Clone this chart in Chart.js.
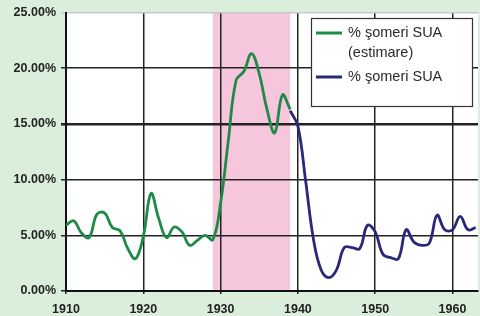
<!DOCTYPE html>
<html>
<head>
<meta charset="utf-8">
<script src="https://cdn.jsdelivr.net/npm/chart.js@4.4.1/dist/chart.umd.min.js"></script>
<style>
  html, body { margin: 0; padding: 0; background: #dbeedb; }
  #wrap { width: 480px; height: 316px; }
</style>
</head>
<body>
<div id="wrap"><canvas id="chart" width="480" height="316"></canvas></div>
<script>
// estimated series, 1910-1939
const estYears = [1910, 1911, 1912, 1913, 1914, 1915, 1916, 1917, 1918, 1919,
                  1920, 1921, 1922, 1923, 1924, 1925, 1926, 1927, 1928, 1929,
                  1930, 1931, 1932, 1933, 1934, 1935, 1936, 1937, 1938, 1939];
const estValues = [5.9, 6.3, 5.2, 4.8, 6.9, 7.0, 5.7, 5.4, 3.8, 2.9,
                   4.9, 8.75, 6.5, 4.8, 5.75, 5.3, 4.1, 4.55, 5.0, 4.6,
                   7.9, 13.5, 18.9, 19.7, 21.3, 19.5, 16.3, 14.2, 17.6, 16.3];

// official series, 1939-1963
const usYears = [1939, 1940, 1941, 1942, 1943, 1944, 1945, 1946, 1947, 1948,
                 1949, 1950, 1951, 1952, 1953, 1954, 1955, 1956, 1957, 1958,
                 1959, 1960, 1961, 1962, 1963];
const usValues = [16.2, 14.8, 9.9, 4.7, 1.9, 1.2, 1.9, 3.9, 3.9, 3.8,
                  5.9, 5.3, 3.3, 3.0, 2.9, 5.5, 4.4, 4.1, 4.3, 6.8,
                  5.5, 5.5, 6.7, 5.5, 5.7];

const seriesLabels = [['% şomeri SUA', '(estimare)'], ['% şomeri SUA']];
const depression = [1929, 1939];
const xTicks = [1910, 1920, 1930, 1940, 1950, 1960];
const yTicks = [0, 5, 10, 15, 20, 25];

const toPoints = (xs, ys) => xs.map((x, i) => ({ x: x, y: ys[i] }));

const backdrop = {
    id: 'backdrop',
    beforeDraw(chart) {
        const { ctx, chartArea: a, scales } = chart;
        ctx.save();
        ctx.fillStyle = '#dbeedb';
        ctx.fillRect(0, 0, chart.width, chart.height);
        ctx.fillStyle = '#ffffff';
        ctx.fillRect(a.left, a.top, a.right - a.left, a.bottom - a.top);
        const x0 = scales.x.getPixelForValue(depression[0]);
        const x1 = scales.x.getPixelForValue(depression[1]);
        ctx.fillStyle = '#f5c6dc';
        ctx.fillRect(x0, a.top, x1 - x0, a.bottom - a.top);
        ctx.restore();
    }
};

const boxLegend = {
    id: 'boxLegend',
    afterDraw(chart) {
        const ctx = chart.ctx;
        const bx = 311, by = 18, bw = 161, bh = 88;
        ctx.save();
        ctx.fillStyle = '#ffffff';
        ctx.fillRect(bx, by, bw, bh);
        ctx.strokeStyle = '#333333';
        ctx.lineWidth = 1.2;
        ctx.strokeRect(bx + 0.5, by + 0.5, bw, bh);
        ctx.font = '14.5px "Liberation Sans", Arial, sans-serif';
        ctx.textBaseline = 'middle';
        let y = by + 15;
        chart.data.datasets.forEach((ds, i) => {
            ctx.strokeStyle = ds.borderColor;
            ctx.lineWidth = 3;
            ctx.beginPath();
            ctx.moveTo(bx + 5, y);
            ctx.lineTo(bx + 31, y);
            ctx.stroke();
            ctx.fillStyle = '#2a2a2a';
            seriesLabels[i].forEach((t) => {
                ctx.fillText(t, bx + 37, y);
                y += 20;
            });
            y += 4;
        });
        ctx.restore();
    }
};

new Chart(document.getElementById('chart'), {
    type: 'line',
    data: {
        datasets: [
            {
                label: seriesLabels[0].join(' '),
                data: toPoints(estYears, estValues),
                borderColor: '#1d8a45',
                borderWidth: 2.8,
                pointRadius: 0,
                tension: 0.4,
                fill: false,
            },
            {
                label: seriesLabels[1].join(' '),
                data: toPoints(usYears, usValues),
                borderColor: '#2a2878',
                borderWidth: 2.8,
                pointRadius: 0,
                tension: 0.4,
                fill: false,
            },
        ],
    },
    options: {
        responsive: false,
        animation: false,
        layout: { padding: { top: 12, right: 2, left: 0, bottom: 0 } },
        plugins: {
            legend: { display: false },
            tooltip: { enabled: false },
        },
        scales: {
            x: {
                type: 'linear',
                min: 1910,
                max: 1963.3,
                afterBuildTicks: (s) => { s.ticks = xTicks.map(v => ({ value: v })); },
                afterFit: (s) => { s.height = 25; },
                grid: {
                    color: '#222222',
                    lineWidth: 1.5,
                    tickLength: 3,
                },
                border: { color: '#111111', width: 2 },
                ticks: {
                    color: '#222222',
                    padding: 8,
                    callback: (v) => String(v),
                    font: { family: '"Liberation Sans", Arial, sans-serif', size: 12.5, weight: 'bold' },
                },
            },
            y: {
                min: 0,
                max: 25,
                afterBuildTicks: (s) => { s.ticks = yTicks.map(v => ({ value: v })); },
                afterFit: (s) => { s.width = 66; },
                grid: {
                    color: (c) => c.tick.value === 25 ? '#c8c8c8' : '#222222',
                    lineWidth: (c) => c.tick.value === 15 ? 2.6 : 1.5,
                    tickLength: 5,
                },
                border: { color: '#111111', width: 2 },
                ticks: {
                    color: '#222222',
                    padding: 5,
                    callback: (v) => v.toFixed(2) + '%',
                    font: { family: '"Liberation Sans", Arial, sans-serif', size: 12.5, weight: 'bold' },
                },
            },
        },
    },
    plugins: [backdrop, boxLegend],
});
</script>
</body>
</html>
